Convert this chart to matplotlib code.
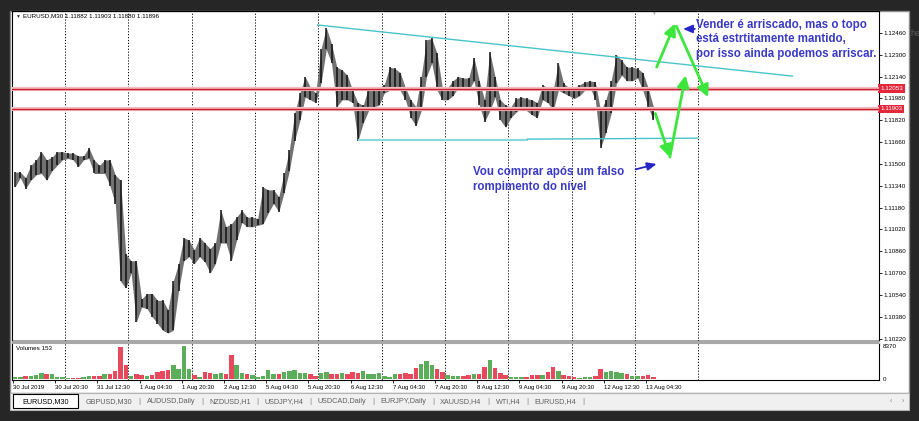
import numpy as np
import matplotlib
matplotlib.use('Agg')
import matplotlib.pyplot as plt
from matplotlib.patches import Rectangle
from matplotlib.transforms import blended_transform_factory

plt.rcParams['font.family'] = ['Liberation Sans', 'DejaVu Sans']

W, H = 920, 421

# EURUSD M30, bars in groups of 4 bars
bars_per_group = 4
highs = [1.1144, 1.1144, 1.1140, 1.1149, 1.1153, 1.1159, 1.1153, 1.1155, 1.1159, 1.1159,
         1.1158, 1.1158, 1.1156, 1.1156, 1.1162, 1.1153, 1.1149, 1.1153, 1.1153, 1.1142,
         1.1138, 1.1084, 1.1079, 1.1079, 1.1051, 1.1055, 1.1055, 1.1050, 1.1050, 1.1043,
         1.1064, 1.1077, 1.1096, 1.1094, 1.1087, 1.1096, 1.1092, 1.1088, 1.1092, 1.1116,
         1.1104, 1.1106, 1.1111, 1.1116, 1.1111, 1.1111, 1.1110, 1.1133, 1.1131, 1.1131,
         1.1126, 1.1143, 1.1160, 1.1187, 1.1202, 1.1214, 1.1206, 1.1202, 1.1234, 1.1250,
         1.1238, 1.1221, 1.1219, 1.1215, 1.1204, 1.1195, 1.1193, 1.1206, 1.1204, 1.1206,
         1.1208, 1.1221, 1.1220, 1.1217, 1.1206, 1.1197, 1.1192, 1.1214, 1.1241, 1.1242,
         1.1231, 1.1206, 1.1206, 1.1211, 1.1214, 1.1213, 1.1213, 1.1228, 1.1211, 1.1197,
         1.1232, 1.1214, 1.1197, 1.1193, 1.1192, 1.1198, 1.1199, 1.1198, 1.1197, 1.1195,
         1.1208, 1.1206, 1.1204, 1.1224, 1.1209, 1.1206, 1.1206, 1.1208, 1.1210, 1.1211,
         1.1210, 1.1189, 1.1197, 1.1211, 1.1230, 1.1226, 1.1221, 1.1221, 1.1220, 1.1217,
         1.1206, 1.1192]
lows = [1.1133, 1.1140, 1.1132, 1.1138, 1.1142, 1.1143, 1.1138, 1.1145, 1.1149, 1.1153,
        1.1154, 1.1153, 1.1148, 1.1153, 1.1154, 1.1143, 1.1143, 1.1143, 1.1134, 1.1121,
        1.1064, 1.1059, 1.1070, 1.1034, 1.1045, 1.1044, 1.1038, 1.1033, 1.1028, 1.1026,
        1.1028, 1.1057, 1.1079, 1.1082, 1.1077, 1.1082, 1.1078, 1.1070, 1.1077, 1.1092,
        1.1092, 1.1079, 1.1094, 1.1107, 1.1104, 1.1104, 1.1105, 1.1106, 1.1114, 1.1121,
        1.1115, 1.1129, 1.1145, 1.1167, 1.1182, 1.1199, 1.1197, 1.1195, 1.1209, 1.1234,
        1.1224, 1.1192, 1.1197, 1.1197, 1.1195, 1.1167, 1.1180, 1.1189, 1.1192, 1.1193,
        1.1202, 1.1204, 1.1206, 1.1204, 1.1197, 1.1184, 1.1178, 1.1189, 1.1214, 1.1224,
        1.1204, 1.1197, 1.1197, 1.1200, 1.1206, 1.1206, 1.1204, 1.1211, 1.1193, 1.1181,
        1.1189, 1.1199, 1.1182, 1.1177, 1.1184, 1.1188, 1.1191, 1.1189, 1.1186, 1.1184,
        1.1197, 1.1195, 1.1189, 1.1204, 1.1202, 1.1200, 1.1198, 1.1200, 1.1204, 1.1206,
        1.1197, 1.1162, 1.1173, 1.1187, 1.1209, 1.1215, 1.1211, 1.1211, 1.1213, 1.1204,
        1.1192, 1.1182]
volumes = [400, 600, 700, 800, 1100, 1400, 1200, 1300, 600, 400,
           300, 300, 300, 400, 700, 800, 700, 1300, 1200, 2000,
           8000, 3500, 700, 1200, 1000, 800, 900, 1800, 2000, 2200,
           3500, 2500, 8370, 2500, 900, 600, 1800, 1500, 1300, 1500,
           1300, 6000, 3500, 1500, 1300, 900, 500, 700, 2300, 1300,
           1200, 1800, 2000, 2200, 1500, 1500, 1200, 800, 1500, 1800,
           1200, 1300, 1400, 1200, 1800, 1600, 2000, 1300, 1200, 1400,
           700, 600, 1300, 1200, 1400, 1300, 2800, 3800, 4500, 3500,
           2500, 1800, 900, 700, 800, 800, 900, 1200, 1300, 3000,
           4800, 2800, 1500, 1000, 400, 400, 400, 500, 900, 900,
           1000, 1800, 3000, 2000, 900, 700, 400, 300, 400, 400,
           700, 2500, 1800, 1900, 1800, 1600, 1200, 800, 700, 700,
           1000, 600]

last_ohlc = [1.11882, 1.11903, 1.11880, 1.11896]
last_volume = 153
price_ticks = [1.12460, 1.12300, 1.12140, 1.11980, 1.11820, 1.11660, 1.11500, 1.11340,
               1.11180, 1.11020, 1.10860, 1.10700, 1.10540, 1.10380, 1.10220]
vol_ticks = [0, 8370]
date_labels = ['30 Jul 2019', '30 Jul 20:30', '31 Jul 12:30', '1 Aug 04:30', '1 Aug 20:30',
               '2 Aug 12:30', '5 Aug 04:30', '5 Aug 20:30', '6 Aug 12:30', '7 Aug 04:30',
               '7 Aug 20:30', '8 Aug 12:30', '9 Aug 04:30', '9 Aug 20:30', '12 Aug 12:30',
               '13 Aug 04:30']
bars_per_label = 32
bars_per_day = 48
first_midnight = 39.5
n_separators = 11

levels = [1.12053, 1.11903]
# trendlines: (bar, price) -> (bar, price)
trend_top = [(231, 1.12519), (591, 1.12144)]
trend_bottom_a = [(262, 1.11674), (390, 1.11674)]
trend_bottom_b = [(390, 1.11682), (519, 1.11689)]
green_arrows = [((488, 1.1221), (502, 1.1253)),
                ((503, 1.1251), (527, 1.1199)),
                ((487, 1.1187), (498, 1.1155)),
                ((498, 1.1155), (510, 1.1215))]
blue_arrows = [((517, 1.1249), (508, 1.1249)),
               ((472, 1.1146), (488, 1.1150))]
note_sell = ['Vender é arriscado, mas o topo', 'está estrtitamente mantido,',
             'por isso ainda podemos arriscar.']
note_buy = ['Vou comprar após um falso', 'rompimento do nível']
tab_names = ['EURUSD,M30', 'GBPUSD,M30', 'AUDUSD,Daily', 'NZDUSD,H1', 'USDJPY,H4',
             'USDCAD,Daily', 'EURJPY,Daily', 'XAUUSD,H4', 'WTI,H4', 'EURUSD,H4']


def px_box(x0, y0, x1, y1):
    return [x0 / W, 1 - y1 / H, (x1 - x0) / W, (y1 - y0) / H]


fig = plt.figure(figsize=(W / 100, H / 100), dpi=100, facecolor='#262626')

# window chrome in pixel coordinates
bg = fig.add_axes([0, 0, 1, 1], zorder=0)
bg.set_xlim(0, W)
bg.set_ylim(H, 0)
bg.axis('off')
bg.add_patch(Rectangle((10.5, 10.5), 899, 382, facecolor='white', edgecolor='#8c8c8c', lw=1))
bg.add_patch(Rectangle((10.5, 393), 899, 17, facecolor='#f0f0f0', edgecolor='#b4b4b4', lw=0.8))
bg.add_patch(Rectangle((12.5, 340), 866.5, 2.5, facecolor='#a8a8a8', edgecolor='none'))
bg.text(910.5, 33, 'he', fontsize=6.5, color='#5a5a5a', va='center', ha='left')

# tabs
renderer = fig.canvas.get_renderer()
tx = 22
for i, name in enumerate(tab_names):
    t = bg.text(tx, 401.5, name, fontsize=5.2, va='center', ha='left',
                color='black' if i == 0 else '#606060')
    w = t.get_window_extent(renderer).width
    if i == 0:
        bg.add_patch(Rectangle((13.5, 393.5), w + 18, 14.5, facecolor='white',
                               edgecolor='black', lw=0.8))
        tx = 13.5 + w + 18 + 8
    else:
        bg.text(tx + w + 7, 401.5, '|', fontsize=6, va='center', ha='center', color='#808080')
        tx = tx + w + 14
bg.text(891, 401.5, '‹', fontsize=5, va='center', ha='center', color='#808080')
bg.text(903, 401.5, '›', fontsize=5, va='center', ha='center', color='#808080')

ax = fig.add_axes(px_box(12.5, 11, 879, 340.5), zorder=1)
axv = fig.add_axes(px_box(12.5, 342.5, 879, 380), zorder=1)
for a in (ax, axv):
    a.set_facecolor('none')
    a.set_xlim(-0.4, 656.6)
    for s in ('top', 'right', 'left', 'bottom'):
        a.spines[s].set_color('black')
        a.spines[s].set_linewidth(0.8)
ax.spines['bottom'].set_color('#a8a8a8')
axv.spines['top'].set_color('#a8a8a8')
ax.set_ylim(1.102054, 1.126216)
axv.set_ylim(-250, 9130)

# price bars
x = np.arange(len(highs)) * bars_per_group + (bars_per_group - 1) / 2
ax.fill_between(x, lows, highs, color='#727272', lw=0, zorder=3)
ax.vlines(x, lows, highs, color='#111111', lw=1.1, zorder=4)

# period separators
for k in range(n_separators):
    xs = first_midnight + k * bars_per_day
    ax.axvline(xs, color='black', lw=0.7, ls=(0, (1.2, 1.8)), zorder=2)
    axv.axvline(xs, color='black', lw=0.7, ls=(0, (1.2, 1.8)), zorder=2)

# horizontal levels with price tags
tag = blended_transform_factory(ax.transAxes, ax.transData)
for lv in levels:
    ax.axhline(lv, color='#f3bcc1', lw=3.0, zorder=5)
    ax.axhline(lv, color='#c81e2e', lw=1.0, zorder=6)
    ax.text(1.0015, lv, f'{lv:.5f}', transform=tag, fontsize=4.5, color='white',
            va='center', ha='left', clip_on=False,
            bbox=dict(boxstyle='square,pad=0.3', fc='#e2283a', ec='none'))

# trendlines
for seg, col, lw in ((trend_top, '#48c4c8', 1.0), (trend_bottom_a, '#8ad8da', 1.6),
                     (trend_bottom_b, '#48c4c8', 1.0)):
    ax.plot([seg[0][0], seg[1][0]], [seg[0][1], seg[1][1]], color=col, lw=lw, zorder=5)

# hand drawn arrows
for (x0, y0), (x1, y1) in green_arrows:
    ax.annotate('', xy=(x1, y1), xytext=(x0, y0), zorder=8,
                arrowprops=dict(arrowstyle='-|>,head_length=0.7,head_width=0.35',
                                color='#3ce63c', lw=2.0, shrinkA=0, shrinkB=0,
                                mutation_scale=10))
for (x0, y0), (x1, y1) in blue_arrows:
    ax.annotate('', xy=(x1, y1), xytext=(x0, y0), zorder=8,
                arrowprops=dict(arrowstyle='-|>,head_length=0.7,head_width=0.3',
                                color='#2626c8', lw=1.3, shrinkA=0, shrinkB=0,
                                mutation_scale=8))

ax.yaxis.tick_right()
ax.set_yticks(price_ticks)
ax.set_yticklabels([f'{p:.5f}' for p in price_ticks])
ax.set_xticks([])
ax.tick_params(axis='y', length=2, width=0.6, pad=1.5, labelsize=4.5)

# volumes
mid = (np.array(highs) + np.array(lows)) / 2
up = np.r_[True, mid[1:] >= mid[:-1]]
vcol = np.where(up, '#5aae5a', '#e8485c')
axv.bar(x, volumes, width=3.4, color=vcol, lw=0, zorder=3)
axv.yaxis.tick_right()
axv.set_yticks(vol_ticks)
axv.set_yticklabels([str(v) for v in vol_ticks])
axv.set_xticks(np.arange(len(date_labels)) * bars_per_label)
axv.set_xticklabels(date_labels)
for lbl in axv.get_xticklabels():
    lbl.set_ha('left')
axv.tick_params(axis='y', length=0, pad=3, labelsize=4.5)
axv.tick_params(axis='x', length=2, width=0.6, pad=1.5, labelsize=4.3)

# overlay texts
ov = fig.add_axes([0, 0, 1, 1], zorder=5)
ov.set_xlim(0, W)
ov.set_ylim(H, 0)
ov.axis('off')
ov.text(17.5, 16, '▼', fontsize=3.5, color='#333333', va='center', ha='center')
ov.text(23, 16, 'EURUSD,M30 ' + ' '.join(f'{v:.5f}' for v in last_ohlc),
        fontsize=4.5, va='center', ha='left')
ov.text(653, 13, '▼', fontsize=3.5, color='#a0a0a0', va='center', ha='center')
ov.text(16, 348, f'Volumes {last_volume}', fontsize=4.5, va='center', ha='left')
for j, line in enumerate(note_sell):
    ov.text(696, 25 + 14.5 * j, line, fontsize=8.3, fontweight='bold',
            color='#3a3ac4', va='center', ha='left')
for j, line in enumerate(note_buy):
    ov.text(473, 172 + 15 * j, line, fontsize=8.3, fontweight='bold',
            color='#3a3ac4', va='center', ha='left')

fig.savefig('out.png', dpi=100, facecolor=fig.get_facecolor())
